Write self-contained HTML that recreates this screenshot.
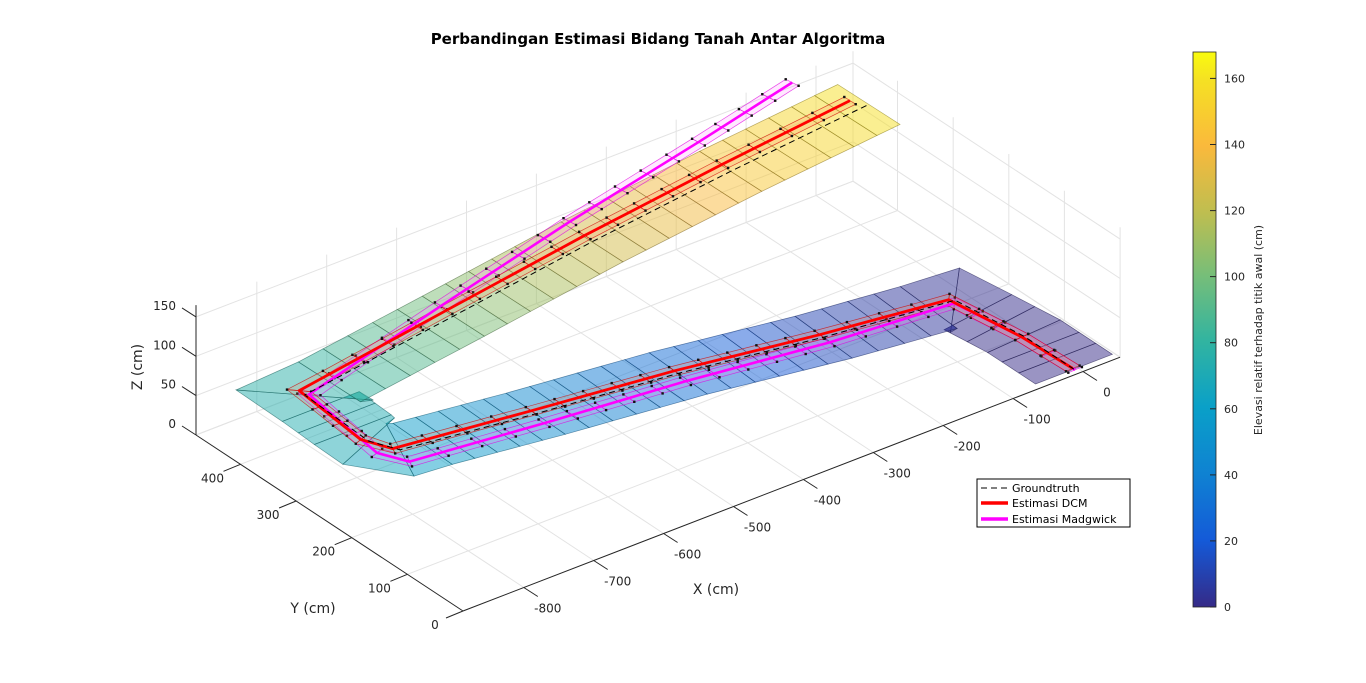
<!DOCTYPE html>
<html><head><meta charset="utf-8"><title>Perbandingan Estimasi Bidang Tanah</title>
<style>
html,body{margin:0;padding:0;background:#fff;}
svg{display:block;font-family:"DejaVu Sans","Liberation Sans",sans-serif;}
</style></head>
<body>
<svg id="chart" width="1366" height="683" viewBox="0 0 1366 683" xmlns="http://www.w3.org/2000/svg">
<defs>
<linearGradient id="parulaGrad" x1="0" y1="1" x2="0" y2="0">
<stop offset="0" stop-color="#352a87"/><stop offset="0.12" stop-color="#145ad8"/>
<stop offset="0.24" stop-color="#0f82d2"/><stop offset="0.36" stop-color="#0aa0c8"/>
<stop offset="0.48" stop-color="#32b4a0"/><stop offset="0.6" stop-color="#78be78"/>
<stop offset="0.71" stop-color="#bebe50"/><stop offset="0.83" stop-color="#fab93c"/>
<stop offset="0.95" stop-color="#f5e123"/><stop offset="1" stop-color="#f9fb0e"/>
</linearGradient>
</defs>
<text x="658" y="44" text-anchor="middle" font-size="15" font-weight="bold" fill="#000">Perbandingan Estimasi Bidang Tanah Antar Algoritma</text>
<g id="grid"></g>
<g id="surf"></g>
<g id="est"></g>
<g id="lines"></g>
<g id="axes"></g>
<text x="716" y="594" text-anchor="middle" font-size="14" fill="#262626">X (cm)</text>
<text x="313" y="613" text-anchor="middle" font-size="14" fill="#262626">Y (cm)</text>
<text x="0" y="0" transform="translate(142,367) rotate(-90)" text-anchor="middle" font-size="14" fill="#262626">Z (cm)</text>
<g>
<rect x="1193" y="52" width="23" height="555" fill="url(#parulaGrad)" stroke="#262626" stroke-width="0.8"/>
<g id="cbticks"></g>
<text x="0" y="0" transform="translate(1262,330) rotate(-90)" text-anchor="middle" font-size="11" fill="#262626">Elevasi relatif terhadap titik awal (cm)</text>
</g>
<g>
<rect x="977" y="479" width="153" height="48" fill="#fff" stroke="#000" stroke-width="1"/>
<g>
<line x1="981" y1="488" x2="1008" y2="488" stroke="#000" stroke-width="1" stroke-dasharray="6,4"/>
<text x="1012" y="492" font-size="11" fill="#000">Groundtruth</text></g>
<g>
<line x1="981" y1="503" x2="1008" y2="503" stroke="#f00" stroke-width="3.5"/>
<text x="1012" y="507" font-size="11" fill="#000">Estimasi DCM</text></g>
<g>
<line x1="981" y1="519" x2="1008" y2="519" stroke="#f0f" stroke-width="3.5"/>
<text x="1012" y="523" font-size="11" fill="#000">Estimasi Madgwick</text></g>
</g>
</svg>
<script>
const gtX=[-5,-5,-20,-200,-400,-600,-790,-815,-815,-600,-400,-200,0];
const gtY=[10,100,205,215,225,230,235,260,375,378,380,382,385];
const gtZ=[0,0,2,12,30,45,62,70,75,100,125,145,160];
const dcmX=[-5,-8,-25,-200,-400,-600,-795,-820,-815,-600,-400,-200,-15];
const dcmY=[12,100,210,222,232,238,242,268,385,390,393,397,400];
const dcmZ=[0,0,2,12,30,45,62,70,76,102,127,147,163];
const mdgX=[-5,-8,-25,-200,-400,-600,-790,-815,-805,-600,-400,-200,-50];
const mdgY=[8,100,200,205,212,215,218,245,380,400,420,440,460];
const mdgZ=[0,0,2,10,26,40,55,62,70,103,132,155,170];
const xTicks=[-800,-700,-600,-500,-400,-300,-200,-100,0];
const yTicks=[0,100,200,300,400];
const zTicks=[0,50,100,150];
const cbTicks=[0,20,40,60,80,100,120,140,160];
const XL=[-887,53], YL=[0,480], ZL=[0,165], CMAX=168;

const NS="http://www.w3.org/2000/svg";
function P(x,y,z){const a=x-XL[0];return [463+a*0.699-y*0.5563, 611-a*0.270-y*0.3667-z*0.787];}
function mk(tag,attrs,parent){const e=document.createElementNS(NS,tag);for(const k in attrs)e.setAttribute(k,attrs[k]);parent.appendChild(e);return e;}
function ln(p,q,style,parent){return mk('line',Object.assign({x1:p[0].toFixed(1),y1:p[1].toFixed(1),x2:q[0].toFixed(1),y2:q[1].toFixed(1)},style),parent);}
const stops=[[0,[53,42,135]],[0.12,[20,90,216]],[0.24,[15,130,210]],[0.36,[10,160,200]],[0.48,[50,180,160]],[0.6,[120,190,120]],[0.71,[190,190,80]],[0.83,[250,185,60]],[0.95,[245,225,35]],[1,[249,251,14]]];
function parula(t,dark){t=Math.max(0,Math.min(1,t));let i=0;while(i<stops.length-2&&t>stops[i+1][0])i++;
const a=stops[i],b=stops[i+1],f=(t-a[0])/(b[0]-a[0]);const c=a[1].map((v,k)=>Math.round((v+(b[1][k]-v)*f)*(dark||1)));return `rgb(${c[0]},${c[1]},${c[2]})`;}

const g=document.getElementById('grid');const gs={stroke:'#e3e3e3','stroke-width':1};
xTicks.forEach(x=>{const e=ln(P(x,YL[0],0),P(x,YL[1],0),gs,g);
const f=ln(P(x,YL[1],0),P(x,YL[1],ZL[1]),gs,g);});
yTicks.forEach(y=>{const e=ln(P(XL[0],y,0),P(XL[1],y,0),gs,g);
const f=ln(P(XL[1],y,0),P(XL[1],y,ZL[1]),gs,g);});
zTicks.forEach(z=>{const e=ln(P(XL[0],YL[1],z),P(XL[1],YL[1],z),gs,g);
const f=ln(P(XL[1],YL[0],z),P(XL[1],YL[1],z),gs,g);});
[[P(XL[0],YL[1],0),P(XL[1],YL[1],0)],[P(XL[1],YL[0],0),P(XL[1],YL[1],0)],[P(XL[1],YL[1],0),P(XL[1],YL[1],ZL[1])]].forEach(s=>{const e=ln(s[0],s[1],gs,g);});

function resample(xs,ys,zs,step){const out=[];for(let i=0;i<xs.length-1;i++){const dx=xs[i+1]-xs[i],dy=ys[i+1]-ys[i],dz=zs[i+1]-zs[i];
const L=Math.hypot(dx,dy);const n=Math.max(1,Math.ceil(L/step));for(let k=0;k<n;k++){const f=k/n;out.push([xs[i]+dx*f,ys[i]+dy*f,zs[i]+dz*f]);}}
const l=xs.length-1;out.push([xs[l],ys[l],zs[l]]);return out;}
function ribbon(pts,hw){const L=[],R=[];for(let i=0;i<pts.length;i++){
const a=pts[Math.max(0,i-1)],b=pts[i],c=pts[Math.min(pts.length-1,i+1)];
let d1=[b[0]-a[0],b[1]-a[1]],d2=[c[0]-b[0],c[1]-b[1]];if(i==0)d1=d2;if(i==pts.length-1)d2=d1;
const n1=Math.hypot(...d1)||1,n2=Math.hypot(...d2)||1;const u1=[-d1[1]/n1,d1[0]/n1],u2=[-d2[1]/n2,d2[0]/n2];
let m=[u1[0]+u2[0],u1[1]+u2[1]];const mn=Math.hypot(...m)||1;m=[m[0]/mn,m[1]/mn];const s=hw/Math.max(0.5,m[0]*u1[0]+m[1]*u1[1]);
L.push([b[0]+m[0]*s,b[1]+m[1]*s,b[2]]);R.push([b[0]-m[0]*s,b[1]-m[1]*s,b[2]]);}return [L,R];}
function pstr(arr){return arr.map(p=>{const q=P(p[0],p[1],p[2]);return q[0].toFixed(1)+','+q[1].toFixed(1);}).join(' ');}

const sg=document.getElementById('surf');
const gpts=resample(gtX,gtY,gtZ,38);const [GL,GR]=ribbon(gpts,55);
for(let i=0;i<gpts.length-1;i++){const zavg=(gpts[i][2]+gpts[i+1][2])/2;
const poly=mk('polygon',{points:pstr([GL[i],GL[i+1],GR[i+1],GR[i]]),fill:parula(zavg/CMAX),'fill-opacity':0.5,stroke:parula(zavg/CMAX,0.55),'stroke-opacity':0.6,'stroke-width':0.7},sg);

}

const eg=document.getElementById('est');
function estRibbon(xs,ys,zs,col,fillc,name){const pts=resample(xs,ys,zs,50);const [A,B]=ribbon(pts,10);
for(let i=0;i<pts.length-1;i++){const q=mk('polygon',{points:pstr([A[i],A[i+1],B[i+1],B[i]]),fill:fillc,'fill-opacity':0.18,stroke:col,'stroke-width':0.7,'stroke-opacity':0.7},eg);

}
[A,B].forEach(side=>side.forEach(p=>{const s=P(p[0],p[1],p[2]);const d=mk('rect',{x:(s[0]-1.2).toFixed(1),y:(s[1]-1.2).toFixed(1),width:2.4,height:2.4,fill:'#111'},eg);

}));}
estRibbon(mdgX,mdgY,mdgZ,'#e000e0','#ff80ff','madgwick');
estRibbon(dcmX,dcmY,dcmZ,'#d00000','#ff9060','dcm');

const lg=document.getElementById('lines');
function path(xs,ys,zs){return 'M'+xs.map((x,i)=>{const p=P(x,ys[i],zs[i]);return p[0].toFixed(1)+','+p[1].toFixed(1);}).join(' L');}
const lm=mk('path',{d:path(mdgX,mdgY,mdgZ),fill:'none',stroke:'#f0f','stroke-width':2.6,'stroke-linejoin':'round'},lg);


const ld=mk('path',{d:path(dcmX,dcmY,dcmZ),fill:'none',stroke:'#f00','stroke-width':2.8,'stroke-linejoin':'round'},lg);


const lgt=mk('path',{d:path(gtX,gtY,gtZ),fill:'none',stroke:'#000','stroke-width':1,'stroke-dasharray':'6,4'},lg);



const ag=document.getElementById('axes');const as={stroke:'#262626','stroke-width':1};
const ax=ln(P(XL[0],0,0),P(XL[1],0,0),as,ag);
const ay=ln(P(XL[0],0,0),P(XL[0],YL[1],0),as,ag);
const az=ln(P(XL[0],YL[1],0),P(XL[0],YL[1],ZL[1]),as,ag);
function lab(x,y,t,anchor,name){const e=mk('text',{x:x.toFixed(1),y:y.toFixed(1),'text-anchor':anchor,'font-size':12,fill:'#262626'},ag);e.textContent=t;

}
xTicks.forEach(x=>{const p=P(x,0,0);const e=ln(p,[p[0]+14,p[1]+9],as,ag);lab(p[0]+24,p[1]+25,String(x),'middle','x-tick-label');});
yTicks.forEach(y=>{const p=P(XL[0],y,0);const e=ln(p,[p[0]-17,p[1]+7],as,ag);lab(p[0]-28,p[1]+18,String(y),'middle','y-tick-label');});
zTicks.forEach(z=>{const p=P(XL[0],YL[1],z);const e=ln(p,[p[0]-14,p[1]-9],as,ag);lab(p[0]-20,p[1]-7,String(z),'end','z-tick-label');});

const cg=document.getElementById('cbticks');
cbTicks.forEach(v=>{const y=607-v/CMAX*555;const t=ln([1210,y],[1216,y],as,cg);
const e=mk('text',{x:1224,y:(y+4).toFixed(1),'font-size':11,fill:'#262626'},cg);e.textContent=String(v);

});
</script>
</body></html>
